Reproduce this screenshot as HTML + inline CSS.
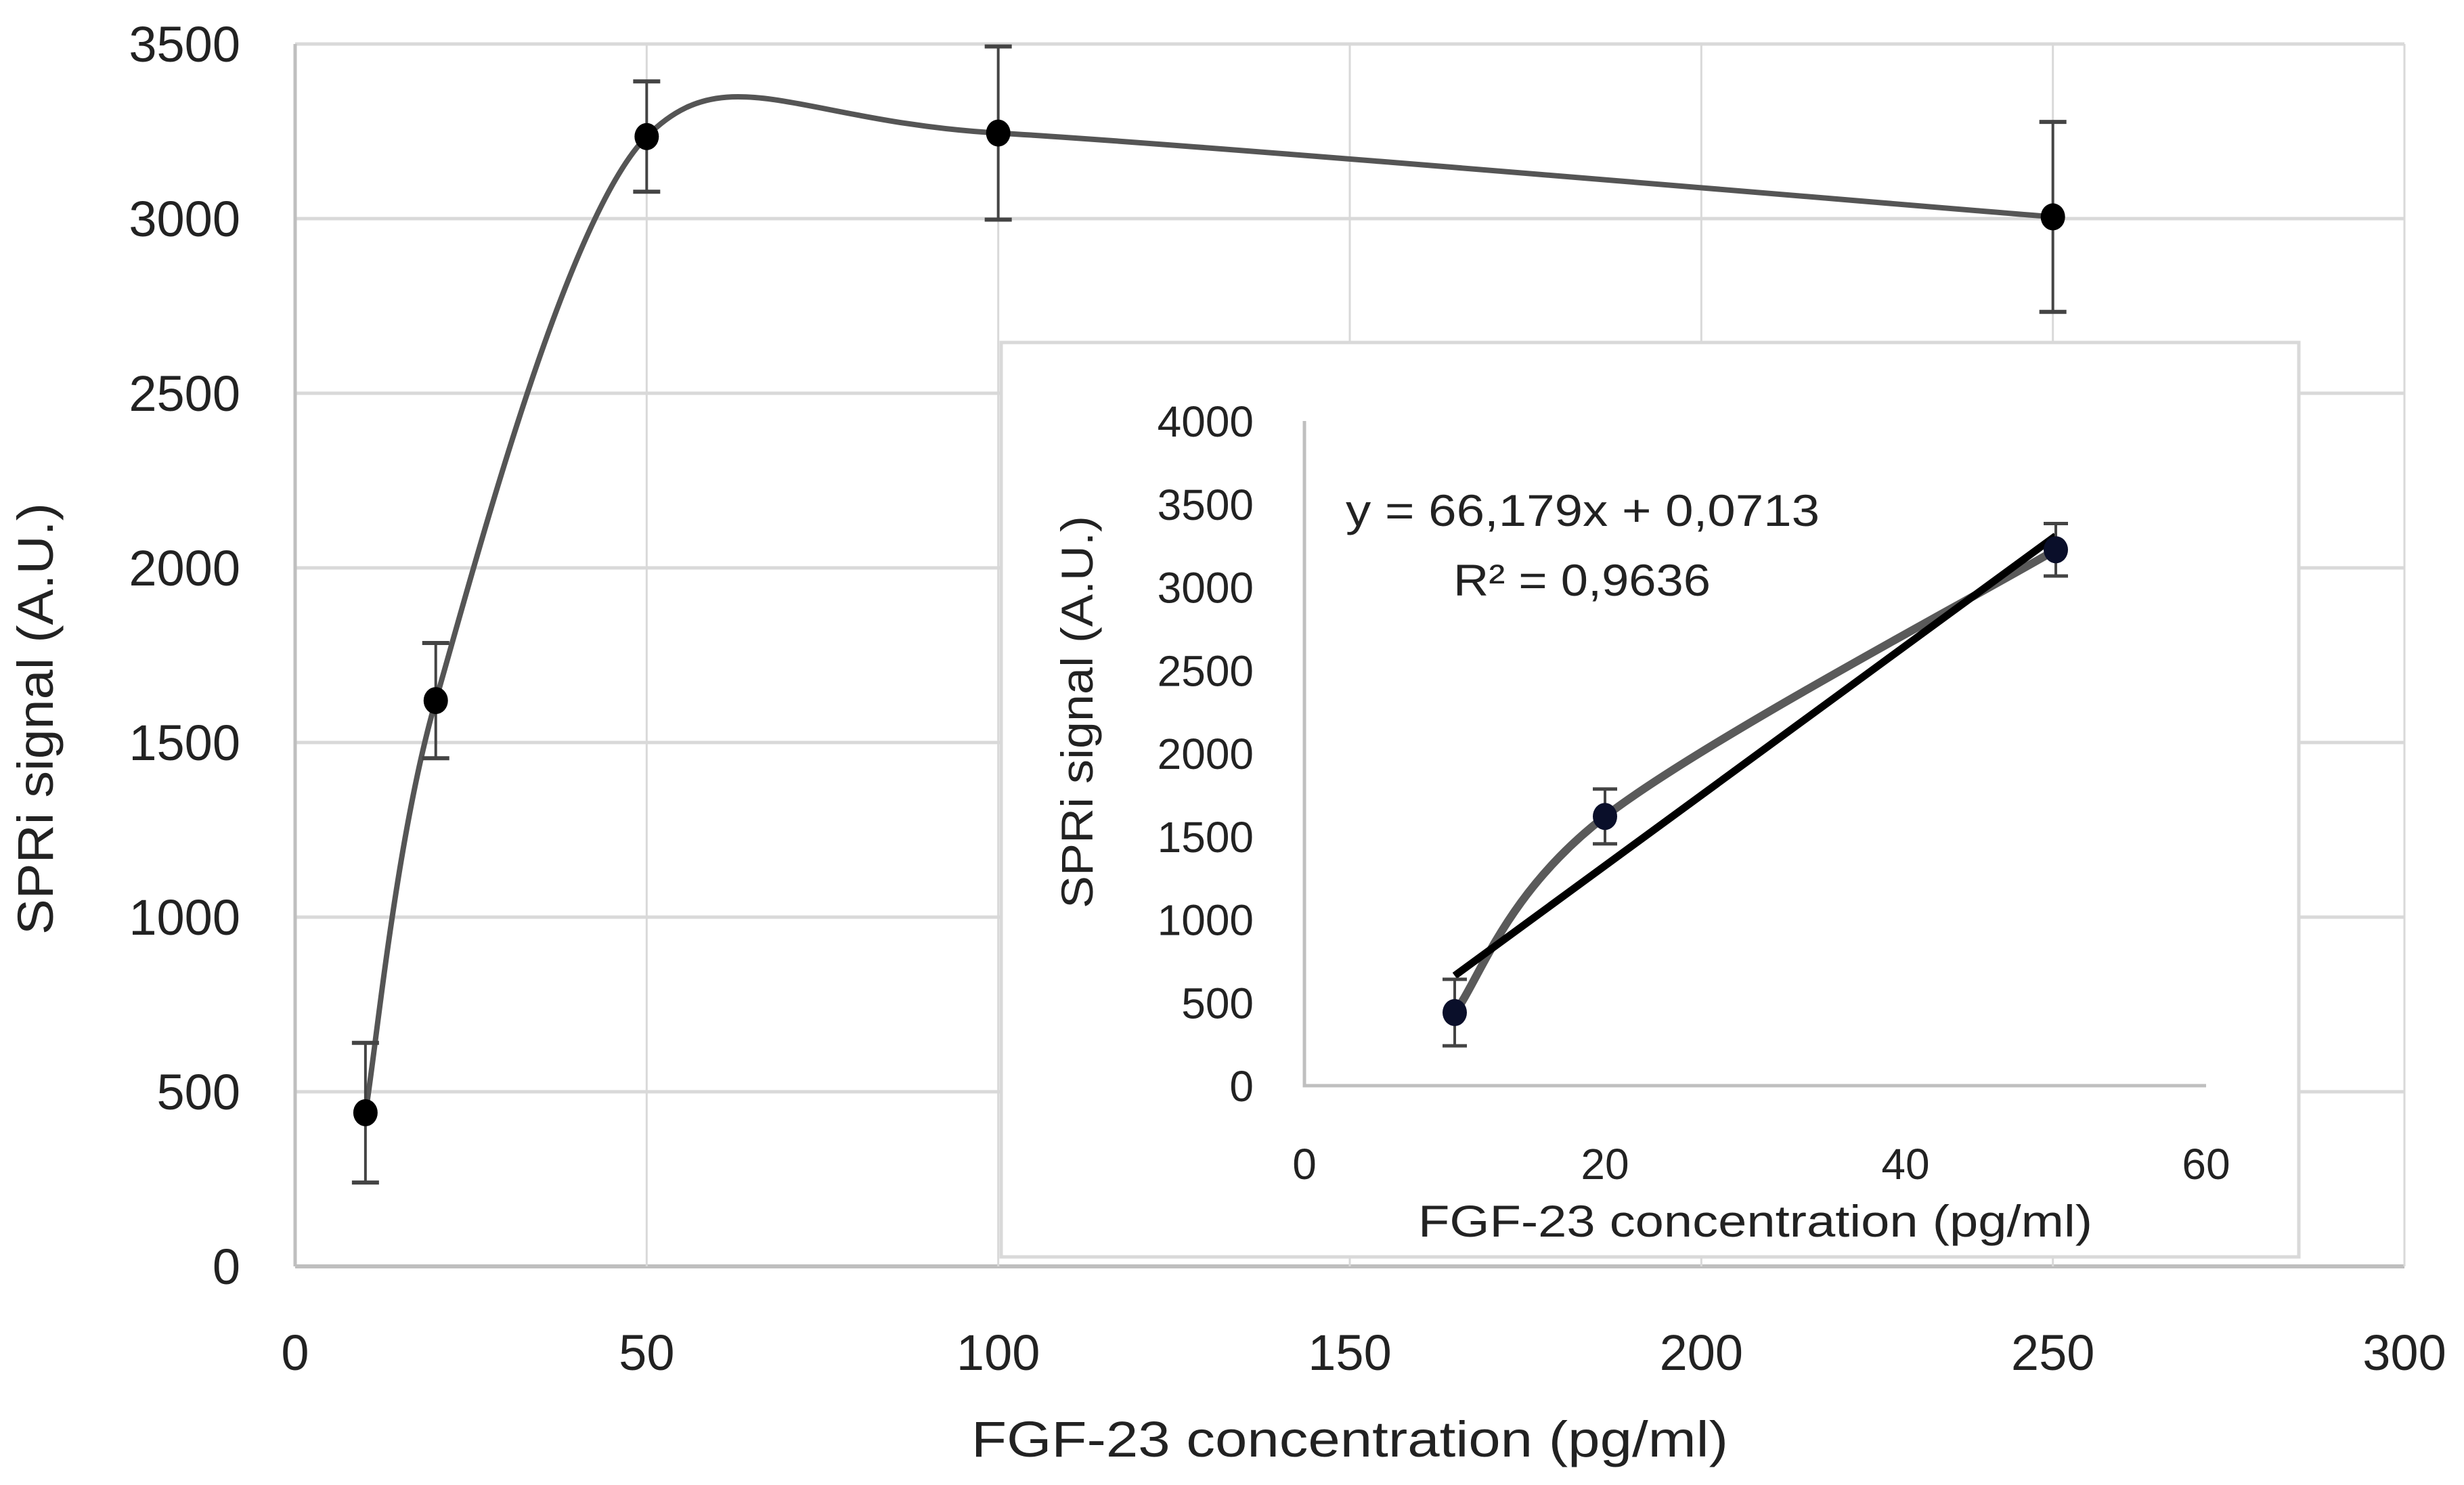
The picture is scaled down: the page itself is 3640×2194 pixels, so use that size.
<!DOCTYPE html>
<html><head><meta charset="utf-8"><style>
html,body{margin:0;padding:0;background:#fff;}
svg{display:block;font-family:"Liberation Sans",sans-serif;}
</style></head>
<body>
<svg id="chart" width="3640" height="2194" viewBox="0 0 3640 2194" xmlns="http://www.w3.org/2000/svg">
<rect width="3640" height="2194" fill="#fff"/>
<g id="main"></g>
<g id="inset"></g>
</svg>
<script>
const mainX = [10, 20, 50, 100, 250];
const mainY = [440, 1620, 3235, 3245, 3005];
const mainErr = [200, 165, 158, 248, 272];
const mainXTicks = [0, 50, 100, 150, 200, 250, 300];
const mainYTicks = [0, 500, 1000, 1500, 2000, 2500, 3000, 3500];
const insetX = [10, 20, 50];
const insetY = [440, 1620, 3225];
const insetErr = [200, 165, 158];
const insetXTicks = [0, 20, 40, 60];
const insetYTicks = [0, 500, 1000, 1500, 2000, 2500, 3000, 3500, 4000];
const fitSlope = 66.179;
const fitIntercept = 0.0713;

const NS = "http://www.w3.org/2000/svg";
function mk(parent, tag, attrs, text) {
  const e = document.createElementNS(NS, tag);
  for (const k in attrs) e.setAttribute(k, attrs[k]);
  if (text !== undefined) e.textContent = text;
  parent.appendChild(e);
  return e;
}
function smoothPath(pts, k) {
  k = k || 6;
  let d = "M" + pts[0][0] + "," + pts[0][1];
  for (let i = 0; i < pts.length - 1; i++) {
    const p0 = pts[Math.max(0, i - 1)], p1 = pts[i], p2 = pts[i + 1], p3 = pts[Math.min(pts.length - 1, i + 2)];
    const c1 = [p1[0] + (p2[0] - p0[0]) / k, p1[1] + (p2[1] - p0[1]) / k];
    const c2 = [p2[0] - (p3[0] - p1[0]) / k, p2[1] - (p3[1] - p1[1]) / k];
    d += " C" + c1[0] + "," + c1[1] + " " + c2[0] + "," + c2[1] + " " + p2[0] + "," + p2[1];
  }
  return d;
}

// ---- main chart
const M = document.getElementById("main");
const L = 436, R = 3552, B = 1871, T = 65;
const mx = v => L + (v - 0) / 300 * (R - L);
const my = v => B - v / 3500 * (B - T);
mainYTicks.forEach(t => {
  const ln = mk(M, "line", {x1: L, x2: R, y1: my(t), y2: my(t), stroke: t === 0 ? "#bfbfbf" : "#d9d9d9", "stroke-width": t === 0 ? 6 : 5});
  
  
  const tx = mk(M, "text", {x: 355, y: my(t) + 26, "text-anchor": "end", "font-size": 74, fill: "#222"}, t);
  
  
});
mainXTicks.forEach(t => {
  const ln = mk(M, "line", {x1: mx(t), x2: mx(t), y1: T, y2: B, stroke: t === 0 ? "#bfbfbf" : "#d9d9d9", "stroke-width": t === 0 ? 5 : 3});
  
  
  const tx = mk(M, "text", {x: mx(t), y: 2024, "text-anchor": "middle", "font-size": 74, fill: "#222"}, t);
  
  
});
const xt = mk(M, "text", {x: 1994, y: 2152, "text-anchor": "middle", "font-size": 74, fill: "#222", textLength: 1118, lengthAdjust: "spacingAndGlyphs"}, "FGF-23 concentration (pg/ml)");


const yt = mk(M, "text", {x: 0, y: 0, transform: "translate(78,1062) rotate(-90)", "text-anchor": "middle", "font-size": 74, fill: "#222", textLength: 638, lengthAdjust: "spacingAndGlyphs"}, "SPRi signal (A.U.)");


const mpts = mainX.map((x, i) => [mx(x), my(mainY[i])]);
const mc = mk(M, "path", {d: smoothPath(mpts, 7), fill: "none", stroke: "#555", "stroke-width": 8});


mainX.forEach((x, i) => {
  const g = mk(M, "g", {});
  
  
  const cx = mx(x), top = my(mainY[i] + mainErr[i]), bot = my(mainY[i] - mainErr[i]);
  mk(g, "line", {x1: cx, x2: cx, y1: top, y2: bot, stroke: "#444", "stroke-width": 4});
  mk(g, "line", {x1: cx - 20, x2: cx + 20, y1: top, y2: top, stroke: "#444", "stroke-width": 6});
  mk(g, "line", {x1: cx - 20, x2: cx + 20, y1: bot, y2: bot, stroke: "#444", "stroke-width": 6});
  mk(g, "ellipse", {cx: cx, cy: my(mainY[i]), rx: 18, ry: 20, fill: "#000"});
});

// ---- inset
const I = document.getElementById("inset");
const bx = mk(I, "rect", {x: 1479, y: 506, width: 1917, height: 1351, fill: "#fff", stroke: "#d9d9d9", "stroke-width": 5});


const iL = 1927, iR = 3259, iB = 1604, iT = 622;
const ix = v => iL + v / 60 * (iR - iL);
const iy = v => iB - v / 4000 * (iB - iT);
const ia = mk(I, "path", {d: `M${iL},${iT} L${iL},${iB} L${iR},${iB}`, fill: "none", stroke: "#bfbfbf", "stroke-width": 5});


insetYTicks.forEach(t => {
  const tx = mk(I, "text", {x: 1852, y: iy(t) + 23, "text-anchor": "end", "font-size": 64, fill: "#222"}, t);
  
  
});
insetXTicks.forEach(t => {
  const tx = mk(I, "text", {x: ix(t), y: 1742, "text-anchor": "middle", "font-size": 64, fill: "#222"}, t);
  
  
});
const ixt = mk(I, "text", {x: 2593, y: 1827, "text-anchor": "middle", "font-size": 66, fill: "#222", textLength: 996, lengthAdjust: "spacingAndGlyphs"}, "FGF-23 concentration (pg/ml)");


const iyt = mk(I, "text", {x: 0, y: 0, transform: "translate(1614,1052) rotate(-90)", "text-anchor": "middle", "font-size": 66, fill: "#222", textLength: 580, lengthAdjust: "spacingAndGlyphs"}, "SPRi signal (A.U.)");


const ipts = insetX.map((x, i) => [ix(x), iy(insetY[i])]);
const ic = mk(I, "path", {d: smoothPath(ipts), fill: "none", stroke: "#5a5a5a", "stroke-width": 12});


const x0 = insetX[0], x1 = insetX[insetX.length - 1];
const fl = mk(I, "line", {x1: ix(x0), y1: iy(fitSlope * x0 + fitIntercept), x2: ix(x1), y2: iy(fitSlope * x1 + fitIntercept), stroke: "#000", "stroke-width": 11});


insetX.forEach((x, i) => {
  const g = mk(I, "g", {});
  
  
  const cx = ix(x), top = iy(insetY[i] + insetErr[i]), bot = iy(insetY[i] - insetErr[i]);
  mk(g, "line", {x1: cx, x2: cx, y1: top, y2: bot, stroke: "#444", "stroke-width": 4});
  mk(g, "line", {x1: cx - 18, x2: cx + 18, y1: top, y2: top, stroke: "#444", "stroke-width": 5});
  mk(g, "line", {x1: cx - 18, x2: cx + 18, y1: bot, y2: bot, stroke: "#444", "stroke-width": 5});
  mk(g, "ellipse", {cx: cx, cy: iy(insetY[i]), rx: 18, ry: 20, fill: "#0a0f2a"});
});
const eq = mk(I, "text", {x: 1988, y: 777, "font-size": 66, fill: "#222", textLength: 700, lengthAdjust: "spacingAndGlyphs"}, "y = 66,179x + 0,0713");


const r2 = mk(I, "text", {x: 2147, y: 880, "font-size": 66, fill: "#222", textLength: 380, lengthAdjust: "spacingAndGlyphs"}, "R² = 0,9636");


</script>
</body></html>
